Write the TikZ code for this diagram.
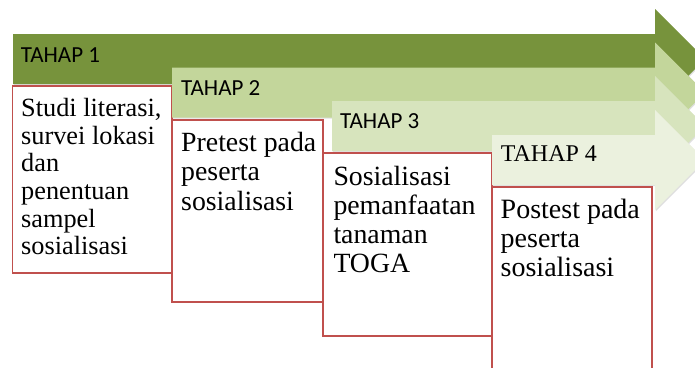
\documentclass[tikz,border=0pt]{standalone}
\usepackage{fontspec}
\setmainfont{Liberation Serif}
\newfontfamily\carlitofont{Carlito}
\usetikzlibrary{shadows}
\definecolor{gA}{HTML}{77933C}
\definecolor{gB}{HTML}{C3D69B}
\definecolor{gC}{HTML}{D7E4BD}
\definecolor{gD}{HTML}{EBF1DE}
\definecolor{rb}{HTML}{C0504D}
\tikzset{
  arrowshape/.style={draw=none, drop shadow={opacity=0.25, shadow xshift=0.8pt, shadow yshift=-1.2pt}},
  redbox/.style={draw=rb, fill=white, line width=1.8pt},
  tahap/.style={inner sep=0pt, anchor=base west, font=\carlitofont\fontsize{23}{25}\selectfont},
  bodytxt/.style={inner sep=0pt, anchor=base west},
}
\begin{document}
\begin{tikzpicture}[x=1pt,y=-1pt]
\useasboundingbox (0,0) rectangle (695,367);
\clip (0,0) rectangle (695,367);
% arrow 1
\fill[gA, arrowshape] (13,34) -- (655,34) -- (655,9) -- (705,59) -- (655,109) -- (655,84) -- (13,84) -- cycle;
\draw[redbox] (12.5,86) rectangle (172,273);
\node[tahap] (h1) at (20.7,62.3) {TAHAP 1};
\node[bodytxt] (s1) at (21,116.7) {\parbox[t]{150pt}{\fontsize{26.3}{27.6}\selectfont Studi literasi,\\survei lokasi\\dan\\penentuan\\sampel\\sosialisasi}};
% arrow 2
\fill[gB, arrowshape] (172,67.5) -- (655,67.5) -- (655,42.5) -- (705,92.5) -- (655,142.5) -- (655,117.5) -- (172,117.5) -- cycle;
\draw[redbox] (172,120) rectangle (323,302);
\node[tahap] (h2) at (181,95) {TAHAP 2};
\node[bodytxt] (s2) at (181,151.7) {\parbox[t]{140pt}{\fontsize{27.8}{29.2}\selectfont Pretest pada\\peserta\\sosialisasi}};
% arrow 3
\fill[gC, arrowshape] (332,101) -- (655,101) -- (655,76) -- (705,126) -- (655,176) -- (655,151) -- (332,151) -- cycle;
\draw[redbox] (323,153) rectangle (492,336);
\node[tahap] (h3) at (340,128.3) {TAHAP 3};
\node[bodytxt] (s3) at (333.3,185) {\parbox[t]{155pt}{\fontsize{27.8}{29.3}\selectfont Sosialisasi\\pemanfaatan\\tanaman\\TOGA}};
% arrow 4
\fill[gD, arrowshape] (492,135) -- (655,135) -- (655,110) -- (705,160) -- (655,210) -- (655,185) -- (492,185) -- cycle;
\draw[redbox] (492,187) rectangle (652,400);
\node[bodytxt, font=\fontsize{24}{26}\selectfont] (h4) at (500.7,161.7) {TAHAP 4};
\node[bodytxt] (s4) at (500.5,218.3) {\parbox[t]{150pt}{\fontsize{28}{29.2}\selectfont Postest pada\\peserta\\sosialisasi}};
\end{tikzpicture}
\end{document}
